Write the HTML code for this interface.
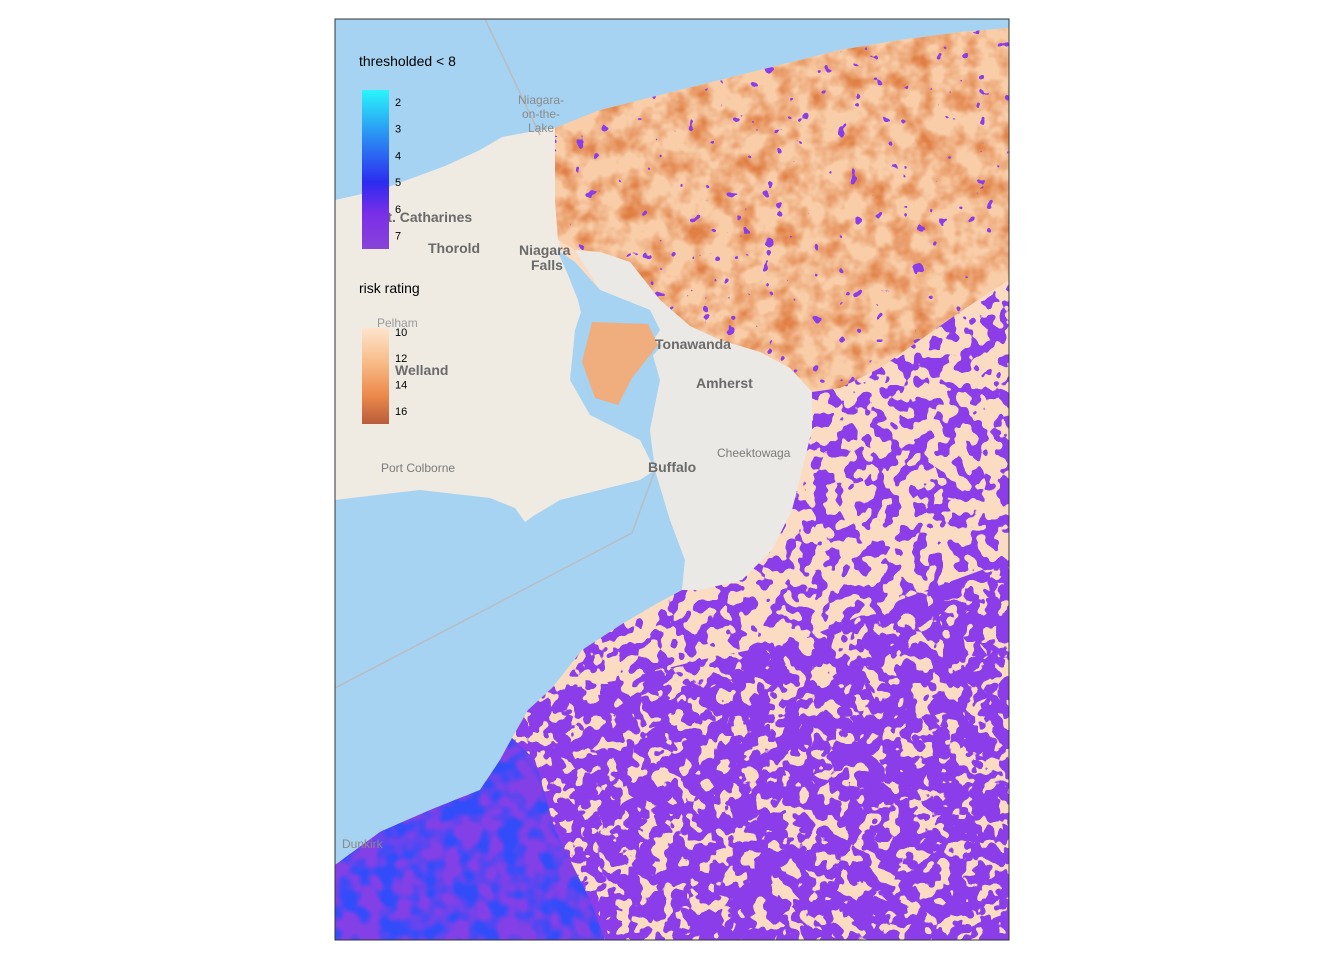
<!DOCTYPE html>
<html><head><meta charset="utf-8">
<style>
html,body{margin:0;padding:0;background:#fff;}
svg{display:block;font-family:"Liberation Sans",sans-serif;}
</style></head>
<body>
<svg id="map" width="1344" height="960" viewBox="0 0 1344 960" xmlns="http://www.w3.org/2000/svg">
<defs>
  <clipPath id="frame"><rect x="335" y="19" width="674" height="921"/></clipPath>
  <clipPath id="northClip"><polygon points="555,128 600,110 640,100 700,85 780,65 840,50 900,40 960,32 1009,28 1009,280 990,292 960,312 920,340 880,368 840,388 812,392 790,368 760,352 720,340 690,326 660,300 630,262 600,252 575,250 558,240 555,200"/><polygon points="590,320 650,322 662,345 632,380 618,410 592,402 578,362"/></clipPath>
  <clipPath id="southClip"><polygon points="1009,280 1009,940 335,940 335,865 380,832 430,810 480,790 500,760 512,738 528,710 552,688 582,650 622,624 656,604 682,590 700,590 742,580 772,550 792,510 802,470 812,430 812,392 840,388 880,368 920,340 960,312 990,292"/></clipPath>
  <clipPath id="deepClip"><polygon points="1009,560 1009,940 335,940 335,865 380,832 430,810 480,790 500,760 512,738 528,710 560,690 620,680 700,660 800,640 900,600"/></clipPath>
  <clipPath id="swClip"><polygon points="335,865 380,832 430,810 480,790 500,760 512,738 535,760 555,830 590,900 605,940 335,940"/></clipPath>
  <filter id="orangeNoise" color-interpolation-filters="sRGB" filterUnits="userSpaceOnUse" x="335" y="19" width="674" height="921">
    <feTurbulence type="fractalNoise" baseFrequency="0.045" numOctaves="3" seed="4"/>
    <feColorMatrix type="matrix" values="0 0 0 0 0.88  0 0 0 0 0.5  0 0 0 0 0.27  2.4 0 0 0 -0.95"/>
  </filter>
  <filter id="purpleNoise" color-interpolation-filters="sRGB" filterUnits="userSpaceOnUse" x="335" y="19" width="674" height="921">
    <feTurbulence type="fractalNoise" baseFrequency="0.07" numOctaves="2" seed="9"/>
    <feColorMatrix type="matrix" values="0 0 0 0 0.54  0 0 0 0 0.24  0 0 0 0 0.91  80 0 0 0 -41.6"/>
  </filter>
  <filter id="purpleNoise2" color-interpolation-filters="sRGB" filterUnits="userSpaceOnUse" x="335" y="19" width="674" height="921">
    <feTurbulence type="fractalNoise" baseFrequency="0.06" numOctaves="2" seed="21"/>
    <feColorMatrix type="matrix" values="0 0 0 0 0.54  0 0 0 0 0.24  0 0 0 0 0.91  80 0 0 0 -39"/>
  </filter>
  <filter id="blueNoise" color-interpolation-filters="sRGB" filterUnits="userSpaceOnUse" x="335" y="19" width="674" height="921">
    <feTurbulence type="fractalNoise" baseFrequency="0.05" numOctaves="2" seed="3"/>
    <feColorMatrix type="matrix" values="0 0 0 0 0.2  0 0 0 0 0.3  0 0 0 0 0.98  4 0 0 0 -1.6"/>
  </filter>
  <filter id="purpleNorth" color-interpolation-filters="sRGB" filterUnits="userSpaceOnUse" x="335" y="19" width="674" height="921">
    <feTurbulence type="fractalNoise" baseFrequency="0.08" numOctaves="2" seed="13"/>
    <feColorMatrix type="matrix" values="0 0 0 0 0.54  0 0 0 0 0.24  0 0 0 0 0.91  80 0 0 0 -58.5"/>
  </filter>
  <linearGradient id="threshGrad" x1="0" y1="0" x2="0" y2="1">
    <stop offset="0" stop-color="#2af5fb"/>
    <stop offset="0.3" stop-color="#2a8cf2"/>
    <stop offset="0.58" stop-color="#2b2cf0"/>
    <stop offset="0.78" stop-color="#7a2ee8"/>
    <stop offset="1" stop-color="#8844d8"/>
  </linearGradient>
  <linearGradient id="riskGrad" x1="0" y1="0" x2="0" y2="1">
    <stop offset="0" stop-color="#fde4cc"/>
    <stop offset="0.35" stop-color="#f8bd8a"/>
    <stop offset="0.7" stop-color="#ec8a4b"/>
    <stop offset="1" stop-color="#b85c3a"/>
  </linearGradient>
</defs>

<g clip-path="url(#frame)">
  <rect x="335" y="19" width="674" height="921" fill="#a6d3f1"/>
  <polygon fill="#efebe3" points="335,200 380,190 445,166 480,150 502,137 540,130 556,128 560,250 575,262 585,300 575,330 570,380 590,415 640,440 655,470 640,480 600,490 560,500 535,515 525,522 515,508 490,498 420,490 360,497 335,500"/>
  <polyline fill="none" stroke="#b9bdc2" stroke-width="1.5" points="485,19 540,135"/>
  <polyline fill="none" stroke="#b9bdc2" stroke-width="1.5" points="335,688 632,533 655,470"/>
  <polygon fill="#fbdcc2" points="555,128 600,110 640,100 700,85 780,65 840,50 900,40 960,32 1009,28 1009,940 335,940 335,865 380,832 430,810 480,790 500,760 512,738 528,710 552,688 582,650 622,624 656,604 682,590 685,560 670,520 655,470 650,430 660,380 650,345 660,330 650,310 600,290 560,250"/>
  <g clip-path="url(#northClip)">
    <rect x="335" y="19" width="674" height="921" fill="#f8cda8"/>
    <rect x="335" y="19" width="674" height="921" filter="url(#orangeNoise)"/>
    <rect x="335" y="19" width="674" height="921" filter="url(#purpleNorth)"/>
  </g>
  <polygon fill="#ebe9e5" points="575,250 600,252 630,262 660,300 690,326 720,340 760,352 790,368 812,392 812,430 802,470 792,510 772,550 742,580 700,590 682,590 685,560 670,520 655,470 650,430 660,380 650,345 660,330 650,310 600,290"/>
  <polygon fill="#a6d3f1" points="557,250 575,262 600,290 650,310 660,330 650,345 662,345 632,380 618,410 592,402 578,362 585,330 578,300 568,275"/>
  <polygon fill="#f0ad7d" points="592,322 648,324 658,345 632,378 618,405 595,398 582,362"/>
  <g clip-path="url(#southClip)">
    <rect x="335" y="19" width="674" height="921" filter="url(#purpleNoise)"/>
  </g>
  <g clip-path="url(#deepClip)">
    <rect x="335" y="19" width="674" height="921" filter="url(#purpleNoise2)"/>
  </g>
  <g clip-path="url(#swClip)">
    <rect x="335" y="700" width="300" height="240" fill="#8240e6"/>
    <rect x="335" y="700" width="300" height="240" filter="url(#blueNoise)"/>
  </g>
  <g fill="#7a7a7a" font-size="12">
    <text x="541" y="104" text-anchor="middle" fill="#8a8a8a">Niagara-</text>
    <text x="541" y="118" text-anchor="middle" fill="#8a8a8a">on-the-</text>
    <text x="541" y="132" text-anchor="middle" fill="#8a8a8a">Lake</text>
    <text x="378" y="222" font-size="14" font-weight="bold" fill="#6a6a6a">St. Catharines</text>
    <text x="428" y="253" font-size="14" font-weight="bold" fill="#6a6a6a">Thorold</text>
    <text x="519" y="255" font-size="14" font-weight="bold" fill="#6a6a6a">Niagara</text>
    <text x="531" y="270" font-size="14" font-weight="bold" fill="#6a6a6a">Falls</text>
    <text x="377" y="327" font-size="12" fill="#9a9a9a">Pelham</text>
    <text x="395" y="375" font-size="14" font-weight="bold" fill="#6a6a6a">Welland</text>
    <text x="381" y="472">Port Colborne</text>
    <text x="648" y="472" font-size="14" font-weight="bold" fill="#6a6a6a">Buffalo</text>
    <text x="655" y="349" font-size="14" font-weight="bold" fill="#6a6a6a">Tonawanda</text>
    <text x="696" y="388" font-size="14" font-weight="bold" fill="#6a6a6a">Amherst</text>
    <text x="717" y="457">Cheektowaga</text>
    <text x="342" y="848" fill="#8a8a8a">Dunkirk</text>
  </g>
</g>
<rect x="335" y="19" width="674" height="921" fill="none" stroke="#333" stroke-width="1"/>

<g id="legend"></g>

<script>
const threshTicks = [2, 3, 4, 5, 6, 7];
const riskTicks = [10, 12, 14, 16];
const threshDomain = [1.55, 7.5];
const riskDomain = [9.7, 17.0];
const NS = 'http://www.w3.org/2000/svg';
const legend = document.getElementById('legend');
function mk(tag, attrs, txt) {
  const e = document.createElementNS(NS, tag);
  for (const k in attrs) e.setAttribute(k, attrs[k]);
  if (txt !== undefined) e.textContent = txt;
  legend.appendChild(e);
  return e;
}
function scale(domain, y0, y1) { return v => y0 + (v - domain[0]) / (domain[1] - domain[0]) * (y1 - y0); }
const ty = scale(threshDomain, 90, 249);
const ry = scale(riskDomain, 328, 424);

let t = mk('text', {x: 359, y: 66, 'font-size': 14, fill: '#000'}, 'thresholded < 8');


let b = mk('rect', {x: 362, y: 90, width: 27, height: 159, fill: 'url(#threshGrad)'});


threshTicks.forEach(v => {
  const l = mk('text', {x: 395, y: ty(v) + 4, 'font-size': 11, fill: '#000'}, String(v));
  
  
});
let t2 = mk('text', {x: 359, y: 293, 'font-size': 14, fill: '#000'}, 'risk rating');


let b2 = mk('rect', {x: 362, y: 328, width: 27, height: 96, fill: 'url(#riskGrad)'});


riskTicks.forEach(v => {
  const l = mk('text', {x: 395, y: ry(v) + 4, 'font-size': 11, fill: '#000'}, String(v));
  
  
});
</script>
</svg>
</body></html>
